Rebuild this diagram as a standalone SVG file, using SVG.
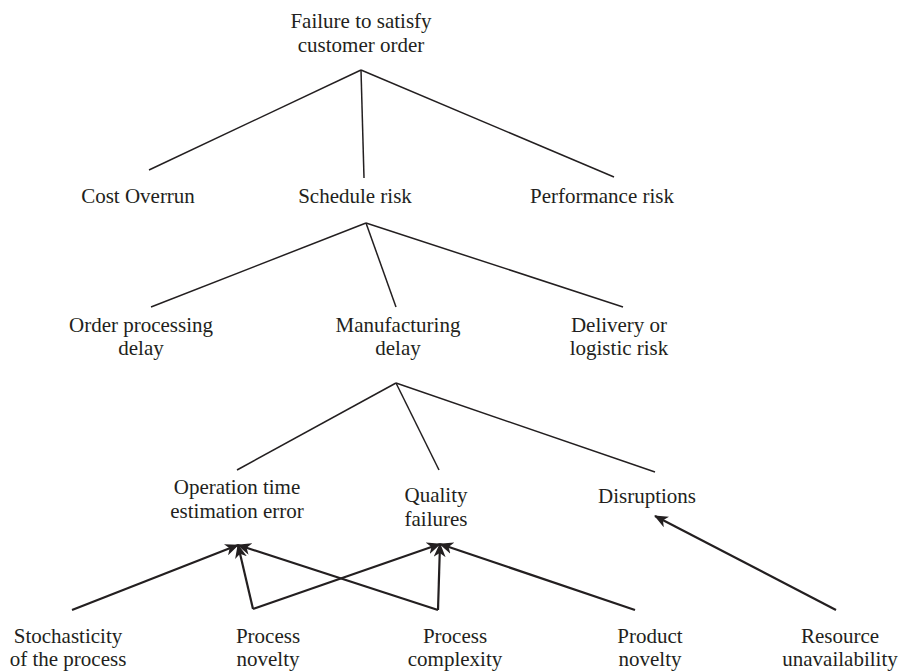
<svg xmlns="http://www.w3.org/2000/svg" width="908" height="672" viewBox="0 0 908 672">
<style>
text{font-family:"Liberation Serif","Times New Roman",serif;font-size:21px;fill:#231f20;text-anchor:middle}
.t{stroke:#231f20;stroke-width:1.5;fill:none}
.a{stroke:#231f20;stroke-width:2.2;fill:none;marker-end:url(#ah)}
</style>
<defs>
<marker id="ah" viewBox="0 0 14 12" refX="13" refY="6" markerWidth="14" markerHeight="12" markerUnits="userSpaceOnUse" orient="auto">
<path d="M0,0 L14,6 L0,12 L4,6 Z" fill="#231f20"/>
</marker>
</defs>
<g id="connectors">
<line class="t" x1="361" y1="70" x2="149" y2="170"/>
<line class="t" x1="361" y1="70" x2="364" y2="178"/>
<line class="t" x1="361" y1="70" x2="614" y2="177"/>
<line class="t" x1="366" y1="223" x2="151" y2="307"/>
<line class="t" x1="366" y1="223" x2="396" y2="307"/>
<line class="t" x1="366" y1="223" x2="623" y2="307"/>
<line class="t" x1="396" y1="383" x2="237" y2="470"/>
<line class="t" x1="396" y1="383" x2="439" y2="470"/>
<line class="t" x1="396" y1="383" x2="655" y2="472"/>
<line class="a" x1="72" y1="610" x2="238" y2="545"/>
<line class="a" x1="253" y1="609" x2="238" y2="545"/>
<line class="a" x1="253" y1="609" x2="440" y2="544"/>
<line class="a" x1="438" y1="610" x2="238" y2="545"/>
<line class="a" x1="438" y1="610" x2="440" y2="544"/>
<line class="a" x1="635" y1="610" x2="440" y2="544"/>
<line class="a" x1="836" y1="610" x2="655" y2="516"/>
</g>
<g id="n-failure"><text x="361" y="28">Failure to satisfy</text><text x="361" y="52">customer order</text></g>
<g id="n-cost"><text x="138" y="203">Cost Overrun</text></g>
<g id="n-schedule"><text x="355" y="203">Schedule risk</text></g>
<g id="n-performance"><text x="602" y="203">Performance risk</text></g>
<g id="n-order"><text x="141" y="332">Order processing</text><text x="141" y="355">delay</text></g>
<g id="n-manufacturing"><text x="398" y="332">Manufacturing</text><text x="398" y="355">delay</text></g>
<g id="n-delivery"><text x="619" y="332">Delivery or</text><text x="619" y="355">logistic risk</text></g>
<g id="n-operation"><text x="237" y="494">Operation time</text><text x="237" y="518">estimation error</text></g>
<g id="n-quality"><text x="436" y="502">Quality</text><text x="436" y="526">failures</text></g>
<g id="n-disruptions"><text x="647" y="503">Disruptions</text></g>
<g id="n-stochasticity"><text x="68" y="643">Stochasticity</text><text x="68" y="666">of the process</text></g>
<g id="n-pnovelty"><text x="268" y="643">Process</text><text x="268" y="666">novelty</text></g>
<g id="n-pcomplexity"><text x="455" y="643">Process</text><text x="455" y="666">complexity</text></g>
<g id="n-product"><text x="650" y="643">Product</text><text x="650" y="666">novelty</text></g>
<g id="n-resource"><text x="840" y="643">Resource</text><text x="840" y="666">unavailability</text></g>
</svg>
